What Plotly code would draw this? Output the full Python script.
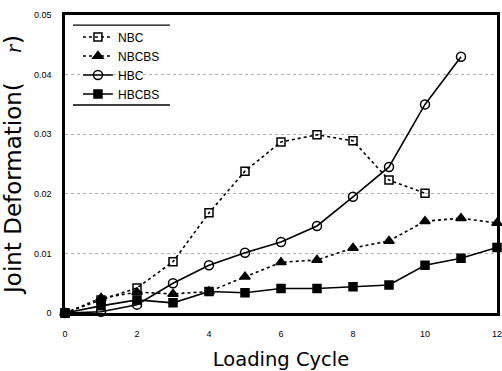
import plotly.graph_objects as go

nbc_x = [0, 1, 2, 3, 4, 5, 6, 7, 8, 9, 10]
nbc = [0.0, 0.0022, 0.0042, 0.0086, 0.0168, 0.0238, 0.0287, 0.0299, 0.0289, 0.0223, 0.0201]
nbcbs_x = [0, 1, 2, 3, 4, 5, 6, 7, 8, 9, 10, 11, 12]
nbcbs = [0.0, 0.0025, 0.0035, 0.0032, 0.0036, 0.0061, 0.0085, 0.0089, 0.0109, 0.0121, 0.0154, 0.0159, 0.0151]
hbc_x = [0, 1, 2, 3, 4, 5, 6, 7, 8, 9, 10, 11]
hbc = [0.0, 0.0002, 0.0014, 0.0050, 0.0080, 0.0101, 0.0119, 0.0146, 0.0195, 0.0245, 0.0350, 0.0430]
hbcbs_x = [0, 1, 2, 3, 4, 5, 6, 7, 8, 9, 10, 11, 12]
hbcbs = [0.0, 0.0012, 0.0022, 0.0017, 0.0036, 0.0034, 0.0041, 0.0041, 0.0044, 0.0047, 0.0080, 0.0092, 0.0110]

x_ticks = [0, 2, 4, 6, 8, 10, 12]
y_ticks = [0, 0.01, 0.02, 0.03, 0.04, 0.05]
y_labels = ["0", "0.01", "0.02", "0.03", "0.04", "0.05"]

fig = go.Figure()
series = [
    ("NBC", nbc_x, nbc, "dot", "square-open"),
    ("NBCBS", nbcbs_x, nbcbs, "dot", "triangle-up"),
    ("HBC", hbc_x, hbc, "solid", "circle-open"),
    ("HBCBS", hbcbs_x, hbcbs, "solid", "square"),
]
for name, xs, ys, dash, sym in series:
    fig.add_trace(go.Scatter(
        x=xs, y=ys, name=name, mode="lines+markers",
        line=dict(color="black", width=1.6, dash=dash),
        marker=dict(symbol=sym, size=8 if "square" in sym else 9, color="black",
                    line=dict(color="black", width=1.5)),
        cliponaxis=False,
    ))

title_font = "DejaVu Sans, Liberation Sans, Arial"
fig.update_layout(
    width=502, height=371,
    margin=dict(l=65, r=5, t=15, b=58, autoexpand=False),
    paper_bgcolor="white", plot_bgcolor="white",
    font=dict(family="Liberation Sans, Arial", color="black"),
    showlegend=True,
    legend=dict(x=0.03, y=0.975, xanchor="left", yanchor="top",
                bgcolor="rgba(0,0,0,0)", borderwidth=0,
                font=dict(size=12), tracegroupgap=0),
    xaxis=dict(range=[0, 12], tickvals=x_ticks, ticktext=[str(v) for v in x_ticks],
               showline=True, linecolor="black", linewidth=2.5, mirror=True,
               showgrid=False, zeroline=False, ticks="", ticklabelstandoff=10,
               automargin=False, ticklabeloverflow="allow",
               tickfont=dict(size=9, family="Liberation Sans, Arial"),
               title=dict(text="Loading Cycle", font=dict(size=19.5, family=title_font), standoff=16)),
    yaxis=dict(range=[0, 0.05], tickvals=y_ticks, ticktext=y_labels,
               showline=True, linecolor="black", linewidth=2.5, mirror=True,
               showgrid=True, gridcolor="#b0b0b0", griddash="dot", gridwidth=1,
               zeroline=False, ticks="", ticklabelstandoff=9,
               automargin=False, ticklabeloverflow="allow",
               tickfont=dict(size=9, family="Liberation Sans, Arial"),
               title=dict(text="Joint Deformation(    <span style=\"font-family:'Liberation Serif'\"><i>r</i></span>)",
                          font=dict(size=23, family=title_font), standoff=8)),
)

fig.add_shape(type="line", xref="paper", yref="paper", x0=0.0185, x1=0.243, y0=0.966, y1=0.966,
              line=dict(color="black", width=1.2))
fig.add_shape(type="line", xref="paper", yref="paper", x0=0.0185, x1=0.243, y0=0.698, y1=0.698,
              line=dict(color="black", width=1.5))

fig.write_html("out.html")
